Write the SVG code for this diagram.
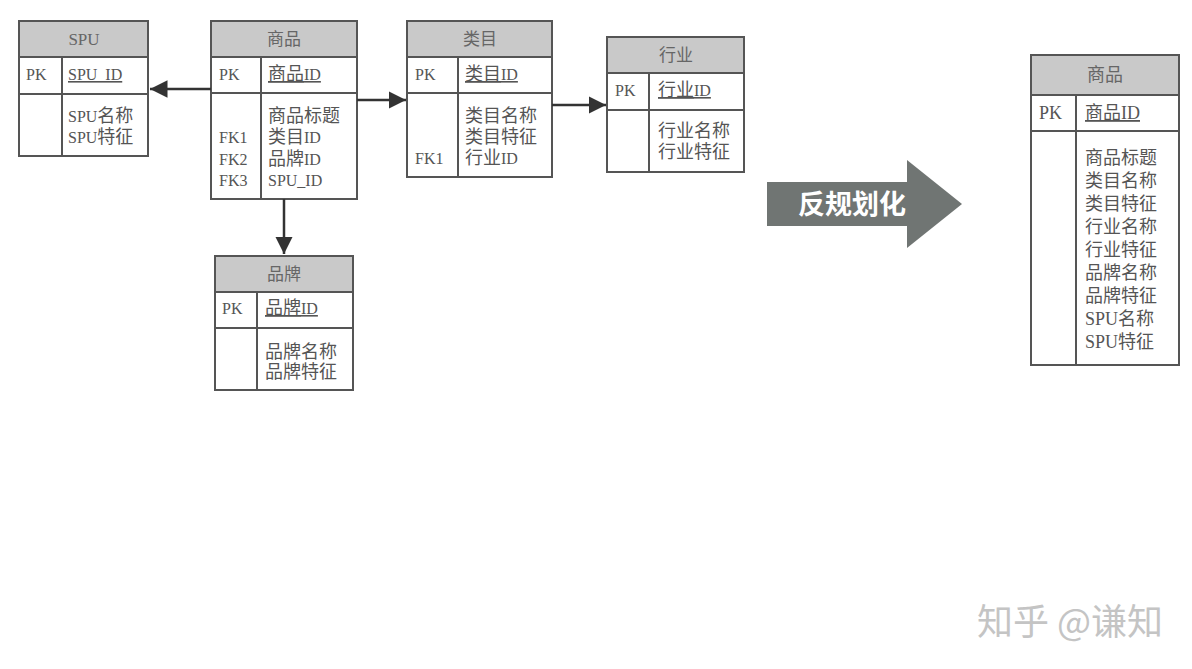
<svg xmlns="http://www.w3.org/2000/svg" width="1192" height="669" viewBox="0 0 1192 669">
<defs>
<style>
.box{fill:#fff;stroke:#555;stroke-width:2}
.hdr{fill:#c9c9c9;stroke:#555;stroke-width:2}
.ln{stroke:#555;stroke-width:2;fill:none}
.t{font-family:"Liberation Serif","Noto Sans CJK SC",serif;font-size:16px;fill:#555}
.c{font-size:18px}
.h{font-family:"Liberation Serif","Noto Sans CJK SC",serif;font-size:17px;fill:#666;text-anchor:middle}
.u{text-decoration:underline}
.big{font-family:"Liberation Serif","Noto Sans CJK SC",serif;font-size:18px;fill:#555}
.conn{stroke:#333;stroke-width:2.5;fill:none}
</style>
<marker id="ah" viewBox="0 0 10 10" refX="10" refY="5" markerWidth="7" markerHeight="7" markerUnits="strokeWidth" orient="auto">
<path d="M0,0 L10,5 L0,10 z" fill="#333"/>
</marker>
</defs>
<rect width="1192" height="669" fill="#fff"/>

<g id="spu">
<rect class="box" x="19" y="21" width="129" height="135"/>
<rect class="hdr" x="19" y="21" width="129" height="36"/>
<line class="ln" x1="19" y1="94" x2="148" y2="94"/>
<line class="ln" x1="62" y1="57" x2="62" y2="156"/>
<text class="h" x="84" y="45">SPU</text>
<text class="t" x="26" y="80">PK</text>
<text class="t u" x="68" y="80">SPU_ID</text>
<text class="t" x="68" y="122">SPU<tspan class="c">名称</tspan></text>
<text class="t" x="68" y="143">SPU<tspan class="c">特征</tspan></text>
</g>

<g id="goods">
<rect class="box" x="211" y="21" width="146" height="178"/>
<rect class="hdr" x="211" y="21" width="146" height="36"/>
<line class="ln" x1="211" y1="93" x2="357" y2="93"/>
<line class="ln" x1="261" y1="57" x2="261" y2="199"/>
<text class="h" x="284" y="45">商品</text>
<text class="t" x="219" y="80">PK</text>
<text class="t u" x="268" y="80"><tspan class="c">商品</tspan>ID</text>
<text class="t c" x="268" y="122">商品标题</text>
<text class="t" x="219" y="143">FK1</text>
<text class="t" x="268" y="143"><tspan class="c">类目</tspan>ID</text>
<text class="t" x="219" y="165">FK2</text>
<text class="t" x="268" y="165"><tspan class="c">品牌</tspan>ID</text>
<text class="t" x="219" y="186">FK3</text>
<text class="t" x="268" y="186">SPU_ID</text>
</g>

<g id="category">
<rect class="box" x="407" y="21" width="145" height="156"/>
<rect class="hdr" x="407" y="21" width="145" height="36"/>
<line class="ln" x1="407" y1="93" x2="552" y2="93"/>
<line class="ln" x1="458" y1="57" x2="458" y2="177"/>
<text class="h" x="480" y="45">类目</text>
<text class="t" x="415" y="80">PK</text>
<text class="t u" x="465" y="80"><tspan class="c">类目</tspan>ID</text>
<text class="t c" x="465" y="122">类目名称</text>
<text class="t c" x="465" y="143">类目特征</text>
<text class="t" x="415" y="164">FK1</text>
<text class="t" x="465" y="164"><tspan class="c">行业</tspan>ID</text>
</g>

<g id="industry">
<rect class="box" x="607" y="37" width="137" height="135"/>
<rect class="hdr" x="607" y="37" width="137" height="36"/>
<line class="ln" x1="607" y1="110" x2="744" y2="110"/>
<line class="ln" x1="649" y1="73" x2="649" y2="172"/>
<text class="h" x="676" y="61">行业</text>
<text class="t" x="615" y="96">PK</text>
<text class="t u" x="658" y="96"><tspan class="c">行业</tspan>ID</text>
<text class="t c" x="658" y="137">行业名称</text>
<text class="t c" x="658" y="158">行业特征</text>
</g>

<g id="brand">
<rect class="box" x="215" y="256" width="138" height="134"/>
<rect class="hdr" x="215" y="256" width="138" height="36"/>
<line class="ln" x1="215" y1="328" x2="353" y2="328"/>
<line class="ln" x1="257" y1="292" x2="257" y2="390"/>
<text class="h" x="284" y="280">品牌</text>
<text class="t" x="222" y="314">PK</text>
<text class="t u" x="265" y="314"><tspan class="c">品牌</tspan>ID</text>
<text class="t c" x="265" y="358">品牌名称</text>
<text class="t c" x="265" y="378">品牌特征</text>
</g>

<g id="connectors">
<line class="conn" x1="211" y1="89" x2="150" y2="89" marker-end="url(#ah)"/>
<line class="conn" x1="357" y1="100" x2="406" y2="100" marker-end="url(#ah)"/>
<line class="conn" x1="552" y1="105" x2="606" y2="105" marker-end="url(#ah)"/>
<line class="conn" x1="284" y1="199" x2="284" y2="254" marker-end="url(#ah)"/>
</g>

<g id="denorm-arrow">
<path d="M767,182 L907,182 L907,160 L962,204 L907,248 L907,226 L767,226 z" fill="#707573"/>
<text x="852" y="214" font-family="'Noto Sans CJK SC',sans-serif" font-size="27" font-weight="bold" fill="#fff" text-anchor="middle">反规划化</text>
</g>

<g id="goods-denorm">
<rect class="box" x="1031" y="55" width="148" height="310"/>
<rect class="hdr" x="1031" y="55" width="148" height="40"/>
<line class="ln" x1="1031" y1="131" x2="1179" y2="131"/>
<line class="ln" x1="1076" y1="95" x2="1076" y2="365"/>
<text class="h" x="1105" y="81" style="font-size:18px">商品</text>
<text class="big" x="1039" y="119">PK</text>
<text class="big u" x="1085" y="119">商品ID</text>
<text class="big" x="1085" y="164">商品标题</text>
<text class="big" x="1085" y="187">类目名称</text>
<text class="big" x="1085" y="210">类目特征</text>
<text class="big" x="1085" y="233">行业名称</text>
<text class="big" x="1085" y="256">行业特征</text>
<text class="big" x="1085" y="279">品牌名称</text>
<text class="big" x="1085" y="302">品牌特征</text>
<text class="big" x="1085" y="325">SPU名称</text>
<text class="big" x="1085" y="348">SPU特征</text>
</g>

<text x="977" y="635" font-family="'Noto Sans CJK SC',sans-serif" font-size="36" fill="#c4c4c4">知乎 @谦知</text>
</svg>
